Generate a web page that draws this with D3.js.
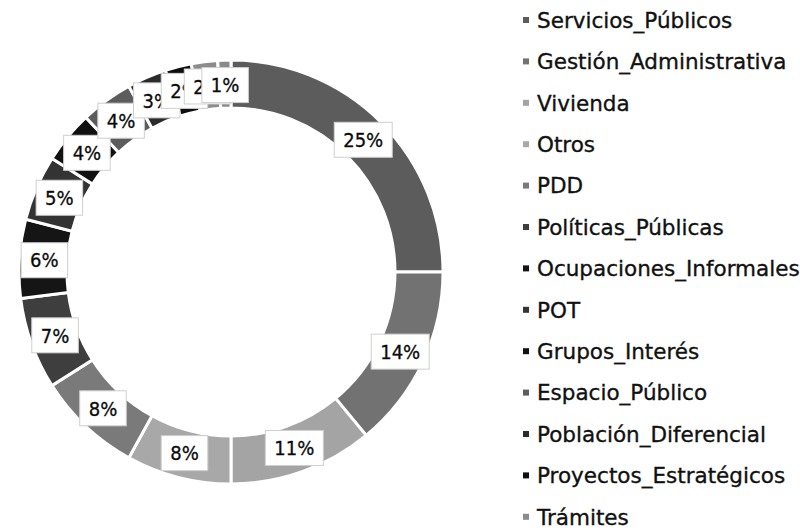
<!DOCTYPE html>
<html>
<head>
<meta charset="utf-8">
<script src="https://cdn.jsdelivr.net/npm/d3@7"></script>
<style>
    body { margin: 0; background: #fff; }
    .legendText { font-family: "DejaVu Sans", sans-serif; font-size: 21.5px; fill: #111; stroke: #111; stroke-width: 0.35px; }
    .pctLabel { font-family: "DejaVu Sans Condensed", "DejaVu Sans", sans-serif; font-size: 20px; fill: #0a0a0a; stroke: #0a0a0a; stroke-width: 0.3px; }
</style>
</head>
<body>
<script>
(function(){

    //categories in slice order (the last legend row falls below the frame)
    var categories = ["Servicios_Públicos", "Gestión_Administrativa", "Vivienda", "Otros", "PDD",
        "Políticas_Públicas", "Ocupaciones_Informales", "POT", "Grupos_Interés", "Espacio_Público",
        "Población_Diferencial", "Proyectos_Estratégicos", "Trámites", "Otros_Temas"];
    //percent shares
    var values = [25, 14, 11, 8, 8, 7, 6, 5, 4, 4, 3, 2, 2, 1];
    //label texts as printed
    var labels = ["25%", "14%", "11%", "8%", "8%", "7%", "6%", "5%", "4%", "4%", "3%", "2%", "2%", "1%"];
    //grey shades of the scan
    var colors = ["#5c5c5c", "#727272", "#a4a4a4", "#a8a8a8", "#7a7a7a", "#3e3e3e", "#151515",
        "#333333", "#111111", "#5c5c5c", "#2b2b2b", "#0e0e0e", "#8c8c8c", "#8a8a8a"];

    window.onload = setChart();

    function setChart(){
        var width = 800,
            height = 530;

        var svg = d3.select("body")
            .append("svg")
            .attr("width", width)
            .attr("height", height);

        var cx = 231, cy = 272,
            outerR = 212, innerR = 164,
            labelR = 187;

        var color = d3.scaleOrdinal()
            .domain(categories)
            .range(colors);

        var pie = d3.pie()
            .sort(null)
            .value(function(d){ return d.value; });

        var data = categories.map(function(c, i){
            return { name: c, value: values[i], label: labels[i] };
        });

        var arcs = pie(data);

        var arc = d3.arc()
            .innerRadius(innerR)
            .outerRadius(outerR);

        var labelArc = d3.arc()
            .innerRadius(labelR)
            .outerRadius(labelR);

        var ring = svg.append("g")
            .attr("transform", "translate(" + cx + "," + cy + ")");

        //donut slices
        ring.selectAll(".slice")
            .data(arcs)
            .enter()
            .append("path")
            .attr("class", "slice")
            .attr("d", arc)
            .style("fill", function(d){ return color(d.data.name); })
            .style("stroke", "#fff")
            .style("stroke-width", 3);

        //boxed percentage labels, drawn in order so later ones sit on top
        var lab = ring.selectAll(".lab")
            .data(arcs)
            .enter()
            .append("g")
            .attr("class", "lab")
            .attr("transform", function(d){
                var p = labelArc.centroid(d);
                return "translate(" + p[0] + "," + p[1] + ")";
            });

        lab.each(function(d){
            var g = d3.select(this);
            var rect = g.append("rect");
            var t = g.append("text")
                .attr("class", "pctLabel")
                .attr("text-anchor", "middle")
                .attr("dy", "0.36em")
                .text(d.data.label);
            var w = t.node().getComputedTextLength() + 18,
                h = 35;
            rect.attr("x", -w / 2)
                .attr("y", -h / 2)
                .attr("width", w)
                .attr("height", h)
                .style("fill", "#fff")
                .style("stroke", "#cfcfcf")
                .style("stroke-width", 1);
        });

        //legend
        var legend = svg.selectAll(".legendRow")
            .data(data)
            .enter()
            .append("g")
            .attr("class", "legendRow")
            .attr("transform", function(d, i){
                return "translate(523," + (20 + i * 41.4) + ")";
            });

        legend.append("rect")
            .attr("x", 0)
            .attr("y", -3)
            .attr("width", 6)
            .attr("height", 6)
            .style("fill", function(d){ return color(d.name); });

        legend.append("text")
            .attr("class", "legendText")
            .attr("x", 14)
            .attr("dy", "0.36em")
            .text(function(d){ return d.name; });
    };

})();
</script>
</body>
</html>
